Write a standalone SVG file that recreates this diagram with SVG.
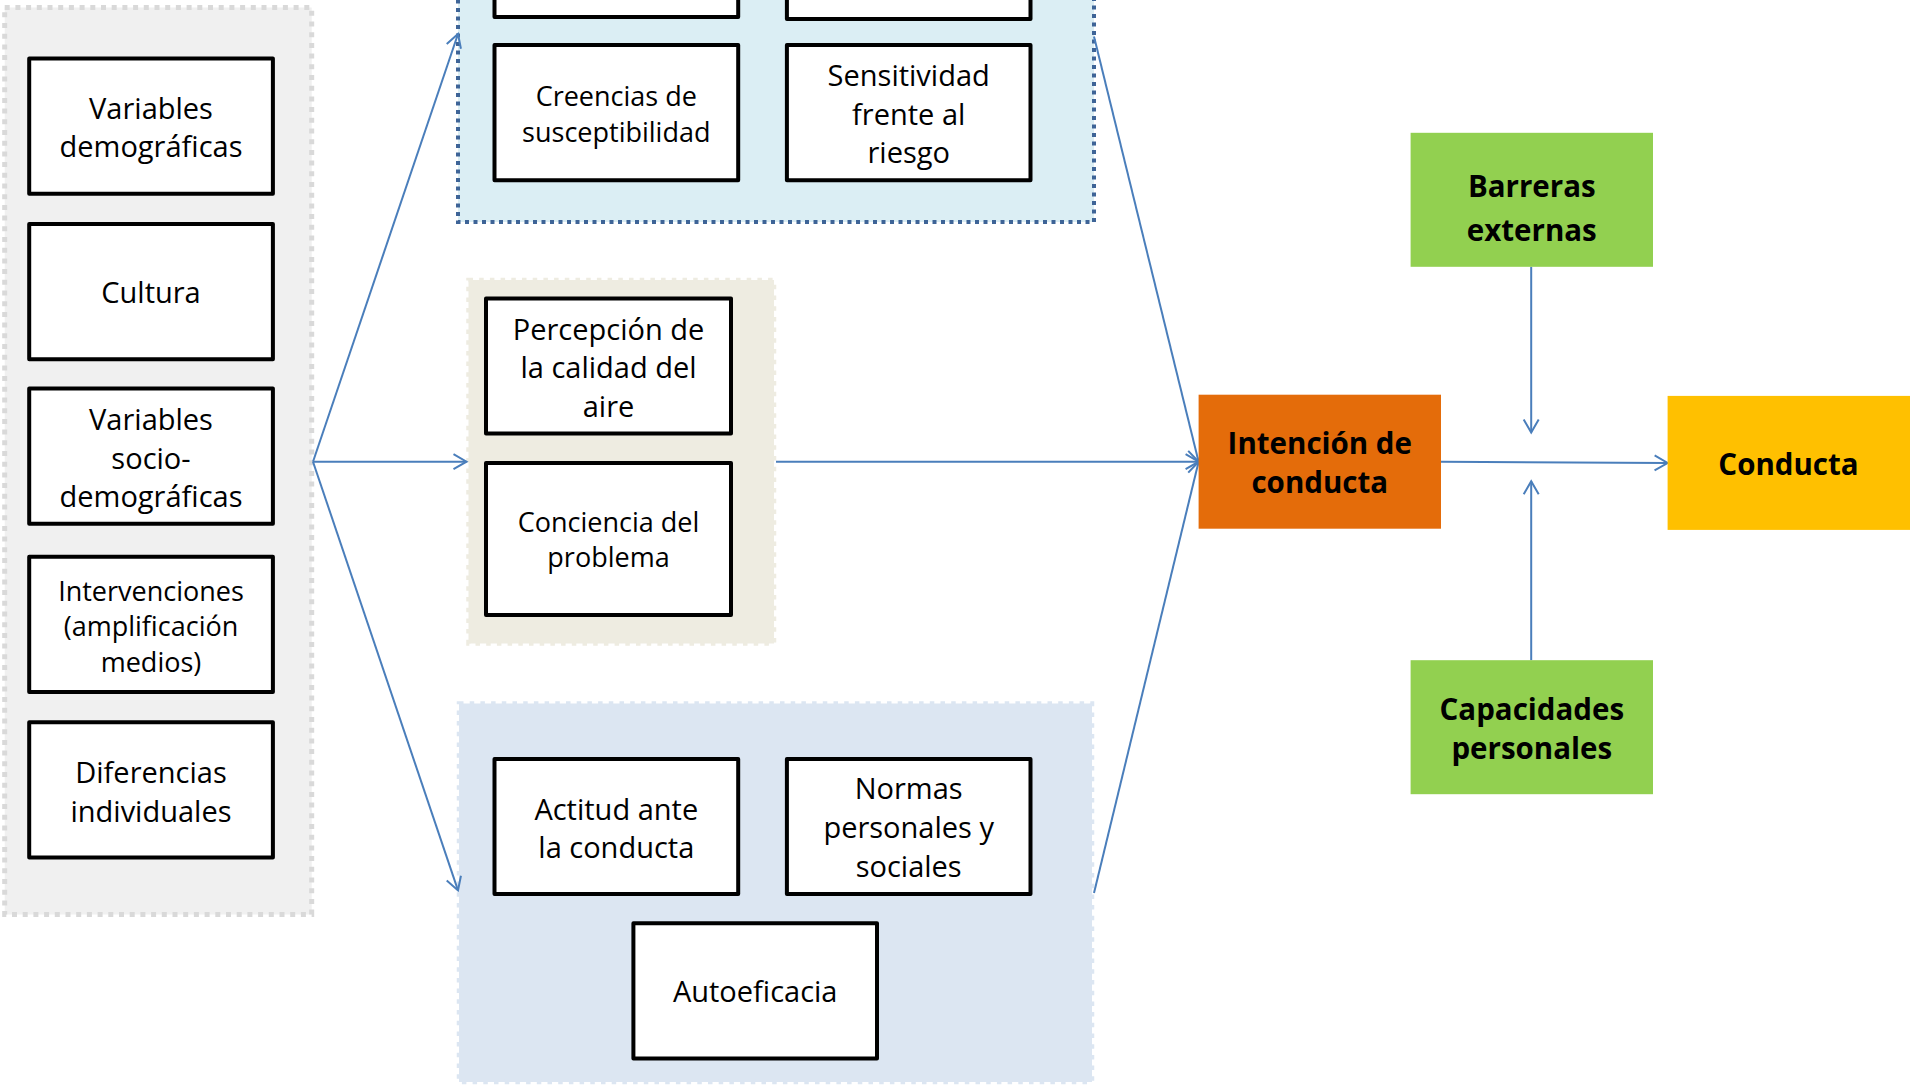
<svg xmlns="http://www.w3.org/2000/svg" width="1910" height="1087" viewBox="0 0 1910 1087">
<defs>
<marker id="arr" markerUnits="userSpaceOnUse" markerWidth="16" markerHeight="18" refX="13" refY="7.5" orient="auto" overflow="visible">
<path d="M0,0 L13,7.5 L0,15" fill="none" stroke="#4A7EBB" stroke-width="2"/>
</marker>
<style>
.box{fill:#FFFFFF;stroke:#000000;stroke-width:4;stroke-linejoin:round}
.t{font-family:"Open Sans","Noto Sans","DejaVu Sans",sans-serif;font-size:29px;fill:#000;text-anchor:middle}
.s{font-size:27px}
.b{font-family:"Open Sans","Noto Sans","DejaVu Sans",sans-serif;font-size:29.5px;font-weight:bold;fill:#000;text-anchor:middle}
.c{fill:none;stroke:#4A7EBB;stroke-width:2;marker-end:url(#arr)}
</style>
</defs>
<rect width="1910" height="1087" fill="#FFFFFF"/>

<g id="grp-left">
<rect x="4.7" y="7.5" width="307" height="907" fill="#F0F0F0" stroke="#D9D9D9" stroke-width="5" stroke-dasharray="5 5.7"/>
</g>
<g id="grp-top">
<rect x="458" y="-30" width="636" height="252" fill="#DBEEF4" stroke="#3E6497" stroke-width="4" stroke-dasharray="4 4.5"/>
</g>
<g id="grp-mid">
<rect x="468.5" y="280" width="305.5" height="363.5" fill="#EEECE1" stroke="#EEECE1" stroke-width="4.5" stroke-dasharray="4.5 6.2"/>
</g>
<g id="grp-bot">
<rect x="459" y="703.5" width="633" height="378.5" fill="#DCE6F2" stroke="#DCE6F2" stroke-width="4.5" stroke-dasharray="4.5 6.2"/>
</g>

<g id="connectors">
<line class="c" x1="313" y1="461.7" x2="458" y2="34"/>
<line class="c" x1="313" y1="461.7" x2="466.5" y2="461.7"/>
<line class="c" x1="313" y1="461.7" x2="458" y2="890.4"/>
<line class="c" x1="776" y1="461.7" x2="1198.6" y2="461.7"/>
<line class="c" x1="1094" y1="36.5" x2="1198.6" y2="461.7"/>
<line class="c" x1="1094" y1="893" x2="1198.6" y2="461.7"/>
<line class="c" x1="1441" y1="461.7" x2="1667.6" y2="463"/>
<line class="c" x1="1531.2" y1="266.8" x2="1531.2" y2="432.4"/>
<line class="c" x1="1531.2" y1="660.2" x2="1531.2" y2="481.2"/>
</g>

<g id="n-vardem">
<rect class="box" x="29.2" y="58.5" width="243.7" height="135.2"/>
<text class="t" x="151" y="119">Variables</text>
<text class="t" x="151" y="157">demográficas</text>
</g>
<g id="n-cultura">
<rect class="box" x="29.2" y="224" width="243.7" height="135.2"/>
<text class="t" x="151" y="303">Cultura</text>
</g>
<g id="n-socio">
<rect class="box" x="29.2" y="388.6" width="243.7" height="135.2"/>
<text class="t" x="151" y="430">Variables</text>
<text class="t" x="151" y="468.5">socio-</text>
<text class="t" x="151" y="506.5">demográficas</text>
</g>
<g id="n-interv">
<rect class="box" x="29.2" y="556.7" width="243.7" height="135.2"/>
<text class="t s" x="151" y="600.5">Intervenciones</text>
<text class="t s" x="151" y="636">(amplificación</text>
<text class="t s" x="151" y="671.5">medios)</text>
</g>
<g id="n-difer">
<rect class="box" x="29.2" y="722.3" width="243.7" height="135.2"/>
<text class="t" x="151" y="783">Diferencias</text>
<text class="t" x="151" y="822">individuales</text>
</g>

<g id="n-top1">
<rect class="box" x="494.5" y="-118" width="243.7" height="135"/>
</g>
<g id="n-top2">
<rect class="box" x="786.9" y="-116" width="243.6" height="135"/>
</g>
<g id="n-creencias">
<rect class="box" x="494.5" y="45" width="243.7" height="135.3"/>
<text class="t s" x="616.3" y="106">Creencias de</text>
<text class="t s" x="616.3" y="142">susceptibilidad</text>
</g>
<g id="n-sensit">
<rect class="box" x="786.9" y="45" width="243.6" height="135.3"/>
<text class="t" x="908.7" y="86">Sensitividad</text>
<text class="t" x="908.7" y="125">frente al</text>
<text class="t" x="908.7" y="163">riesgo</text>
</g>

<g id="n-percep">
<rect class="box" x="486" y="298.4" width="245" height="135.2"/>
<text class="t" x="608.5" y="339.5">Percepción de</text>
<text class="t" x="608.5" y="378">la calidad del</text>
<text class="t" x="608.5" y="416.5">aire</text>
</g>
<g id="n-concien">
<rect class="box" x="486" y="462.9" width="245" height="152.2"/>
<text class="t s" x="608.5" y="532">Conciencia del</text>
<text class="t s" x="608.5" y="567">problema</text>
</g>

<g id="n-actitud">
<rect class="box" x="494.5" y="758.9" width="243.7" height="135.2"/>
<text class="t" x="616.3" y="819.5">Actitud ante</text>
<text class="t" x="616.3" y="857.5">la conducta</text>
</g>
<g id="n-normas">
<rect class="box" x="786.9" y="758.9" width="243.6" height="135.2"/>
<text class="t" x="908.7" y="799">Normas</text>
<text class="t" x="908.7" y="838">personales y</text>
<text class="t" x="908.7" y="877">sociales</text>
</g>
<g id="n-autoef">
<rect class="box" x="633.4" y="923.3" width="243.6" height="135.2"/>
<text class="t" x="755.2" y="1001.5">Autoeficacia</text>
</g>

<g id="n-intencion">
<rect x="1198.6" y="394.7" width="242.4" height="134" fill="#E46C0A"/>
<text class="b" x="1319.8" y="453.5">Intención de</text>
<text class="b" x="1319.8" y="492.5">conducta</text>
</g>
<g id="n-conducta">
<rect x="1667.6" y="395.9" width="250" height="134" fill="#FFC000"/>
<text class="b" x="1788.5" y="474.5">Conducta</text>
</g>
<g id="n-barreras">
<rect x="1410.6" y="132.8" width="242.4" height="134" fill="#92D050"/>
<text class="b" x="1531.8" y="196.5">Barreras</text>
<text class="b" x="1531.8" y="240.5">externas</text>
</g>
<g id="n-capac">
<rect x="1410.6" y="660.2" width="242.4" height="134" fill="#92D050"/>
<text class="b" x="1531.8" y="719.5">Capacidades</text>
<text class="b" x="1531.8" y="758.5">personales</text>
</g>
</svg>
